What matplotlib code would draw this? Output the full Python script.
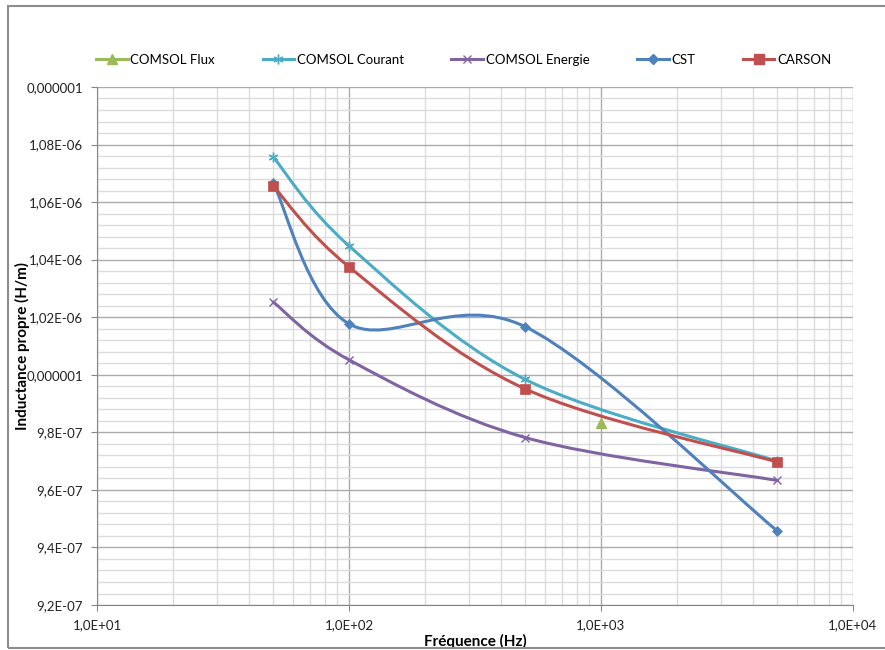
import numpy as np
import matplotlib
matplotlib.use('Agg')
import matplotlib.pyplot as plt
from matplotlib.path import Path
from matplotlib.patches import PathPatch, Rectangle
from matplotlib.lines import Line2D

plt.rcParams['font.family'] = ['Lato', 'DejaVu Sans']

# ── Data ─────────────────────────────────────────────────────────────────────
freq_flux     = [1000]
l_flux        = [9.834e-7]
freq          = [50, 100, 500, 5000]
l_courant     = [1.0757e-6, 1.0448e-6, 9.984e-7, 9.700e-7]
l_energie     = [1.0253e-6, 1.0052e-6, 9.782e-7, 9.633e-7]
l_cst         = [1.0667e-6, 1.0177e-6, 1.0167e-6, 9.458e-7]
l_carson      = [1.0656e-6, 1.0375e-6, 9.951e-7, 9.697e-7]

yticks        = [9.2e-7, 9.4e-7, 9.6e-7, 9.8e-7, 1.0e-6, 1.02e-6,
                 1.04e-6, 1.06e-6, 1.08e-6, 1.1e-6]
ytick_labels  = ["9,2E-07", "9,4E-07", "9,6E-07", "9,8E-07", "0,000001",
                 "1,02E-06", "1,04E-06", "1,06E-06", "1,08E-06", "0,000001"]
xticks        = [10, 100, 1000, 10000]
xtick_labels  = ["1,0E+01", "1,0E+02", "1,0E+03", "1,0E+04"]

C_FLUX, C_COUR, C_ENER = "#9BBB59", "#4BACC6", "#8064A2"
C_CST, C_CARS = "#4F81BD", "#C0504D"
ASTER = (6, 2, 0)


# ── Excel-like smoothed line: cubic Bezier in (log x, y) space ───────────────
def smooth_path(xs, ys):
    p = np.column_stack([np.log10(xs), ys])
    n = len(p)
    verts = [p[0]]
    codes = [Path.MOVETO]
    for i in range(n - 1):
        pm = p[max(i - 1, 0)]
        pp = p[min(i + 2, n - 1)]
        c1 = p[i] + (p[i + 1] - pm) / 6.0
        c2 = p[i + 1] - (pp - p[i]) / 6.0
        verts += [c1, c2, p[i + 1]]
        codes += [Path.CURVE4] * 3
    verts = np.array(verts)
    verts[:, 0] = 10 ** verts[:, 0]
    return Path(verts, codes)


fig = plt.figure(figsize=(8.85, 6.5), dpi=100)
ax = fig.add_axes([0.1096, 0.0692, 0.8542, 0.797])

ax.set_xscale('log')
ax.set_xlim(10, 10000)
ax.set_ylim(9.2e-7, 1.1e-6)

# grid
ax.set_yticks(yticks)
ax.set_yticks(np.arange(9.2e-7, 1.1e-6, 0.4e-8), minor=True)
ax.set_xticks(xticks)
ax.set_yticklabels(ytick_labels)
ax.set_xticklabels(xtick_labels)
ax.grid(which='major', color='#ababab', lw=1.0)
ax.grid(which='minor', color='#dcdcdc', lw=1.0)
ax.set_axisbelow(True)
ax.tick_params(which='major', direction='out', length=4, color='#868686',
               labelsize=9.5, labelcolor='#222222', pad=6)
ax.tick_params(which='minor', length=0)
for s in ['top', 'right']:
    ax.spines[s].set_visible(False)
for s in ['left', 'bottom']:
    ax.spines[s].set_color('#868686')

series = [
    (freq, l_courant, C_COUR, ASTER, 7, "COMSOL Courant"),
    (freq, l_energie, C_ENER, 'x', 6, "COMSOL Energie"),
    (freq, l_cst, C_CST, 'D', 5.5, "CST"),
    (freq, l_carson, C_CARS, 's', 7, "CARSON"),
]

for xs, ys, col, mk, ms, lab in series:
    patch = PathPatch(smooth_path(xs, ys), facecolor='none', edgecolor=col,
                      lw=2.2, zorder=3, capstyle='round')
    ax.add_patch(patch)
    ax.plot(xs, ys, ls='none', marker=mk, ms=ms, color=col, mec=col,
            mew=1.0 if mk in ('x', ASTER) else 0.5, zorder=4)

ax.plot(freq_flux, l_flux, ls='none', marker='^', ms=7, color=C_FLUX, zorder=4)

ax.set_xlabel("Fréquence (Hz)", fontsize=11, fontweight='bold', labelpad=2)
ax.set_ylabel("Inductance propre (H/m)", fontsize=11, fontweight='bold')
ax.yaxis.set_label_coords(-0.088, 0.5)

handles = [
    Line2D([], [], color=C_FLUX, lw=2.2, marker='^', ms=7, label="COMSOL Flux"),
    Line2D([], [], color=C_COUR, lw=2.2, marker=ASTER, ms=7, mew=1.0,
           label="COMSOL Courant"),
    Line2D([], [], color=C_ENER, lw=2.2, marker='x', ms=6, mew=1.0,
           label="COMSOL Energie"),
    Line2D([], [], color=C_CST, lw=2.2, marker='D', ms=5.5, label="CST"),
    Line2D([], [], color=C_CARS, lw=2.2, marker='s', ms=7, label="CARSON"),
]
fig.legend(handles=handles, loc='center', bbox_to_anchor=(0.524, 0.908),
           ncol=5, frameon=False, fontsize=9.5, handlelength=2.4,
           handletextpad=0.2, columnspacing=3.6)

# chart area border
fig.patches.append(Rectangle((8 / 885, 2 / 650), 1.0, 642 / 650,
                             transform=fig.transFigure, fill=False,
                             edgecolor='#8c8c8c', lw=1.5))

fig.savefig("out.png", dpi=100)
